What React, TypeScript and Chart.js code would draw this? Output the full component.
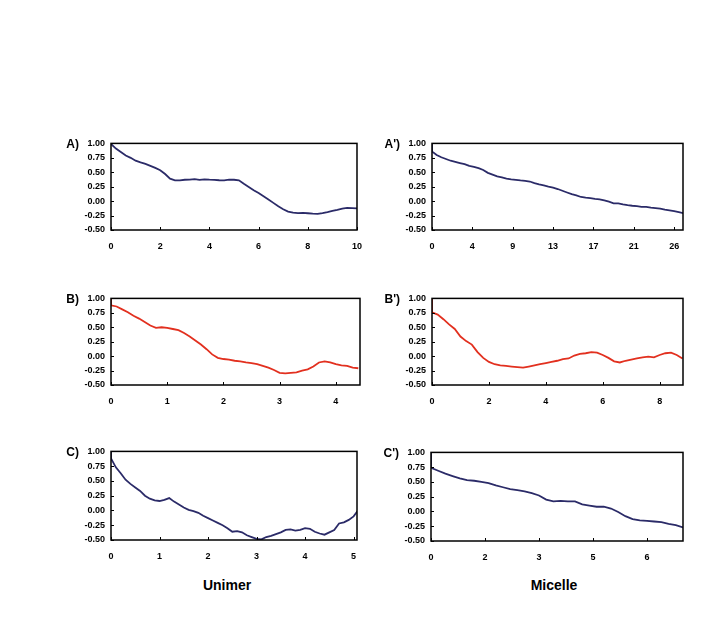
import React, { useEffect, useRef } from "react";
import { Chart, registerables } from "chart.js";

Chart.register(...registerables);

// ---------- data ----------
const START_VALUE = 1.0;

// Panel A (Unimer)
const A_STEP = 0.2;
const A_VALUES = [0.99, 0.91, 0.85, 0.79, 0.75, 0.7, 0.67, 0.645, 0.61, 0.575, 0.535, 0.47, 0.39, 0.36, 0.36, 0.37, 0.372, 0.38, 0.37, 0.378, 0.372, 0.368, 0.362, 0.36, 0.372, 0.37, 0.36, 0.3, 0.245, 0.19, 0.14, 0.085, 0.03, -0.03, -0.09, -0.14, -0.18, -0.2, -0.208, -0.205, -0.21, -0.218, -0.22, -0.208, -0.19, -0.17, -0.15, -0.128, -0.118, -0.12, -0.125];
const A_TICKS = ["0", "2", "4", "6", "8", "10"];
const A_TICK_STEP = 2;
const A_MAX = 10;

// Panel A' (Micelle)
const A2_STEP = 0.5;
const A2_VALUES = [0.86, 0.8, 0.76, 0.73, 0.7, 0.68, 0.66, 0.64, 0.61, 0.595, 0.57, 0.54, 0.49, 0.46, 0.43, 0.41, 0.39, 0.378, 0.37, 0.36, 0.352, 0.34, 0.312, 0.29, 0.272, 0.25, 0.232, 0.21, 0.18, 0.15, 0.12, 0.1, 0.072, 0.06, 0.052, 0.04, 0.032, 0.012, -0.01, -0.038, -0.04, -0.058, -0.07, -0.08, -0.088, -0.098, -0.1, -0.112, -0.12, -0.13, -0.148, -0.16, -0.172, -0.19, -0.21];
const A2_TICKS = ["0", "4", "9", "13", "17", "21", "26"];
const A2_TICK_STEP = 26 / 6;
const A2_MAX = 26.95;

// Panel B (Unimer)
const B_STEP = 0.1;
const B_VALUES = [0.88, 0.86, 0.81, 0.76, 0.7, 0.65, 0.59, 0.53, 0.49, 0.5, 0.49, 0.47, 0.45, 0.4, 0.34, 0.27, 0.2, 0.12, 0.03, -0.03, -0.05, -0.06, -0.08, -0.09, -0.11, -0.12, -0.14, -0.17, -0.2, -0.24, -0.29, -0.3, -0.29, -0.28, -0.25, -0.23, -0.18, -0.11, -0.09, -0.11, -0.14, -0.16, -0.17, -0.2, -0.21];
const B_TICKS = ["0", "1", "2", "3", "4"];
const B_TICK_STEP = 1;
const B_MAX = 4.43;

// Panel B' (Micelle)
const B2_STEP = 0.2;
const B2_VALUES = [0.76, 0.72, 0.64, 0.55, 0.47, 0.34, 0.26, 0.2, 0.07, -0.03, -0.1, -0.14, -0.16, -0.17, -0.18, -0.19, -0.2, -0.18, -0.16, -0.14, -0.12, -0.1, -0.08, -0.05, -0.04, 0.01, 0.04, 0.05, 0.07, 0.06, 0.02, -0.03, -0.09, -0.11, -0.08, -0.06, -0.04, -0.02, -0.01, -0.02, 0.02, 0.05, 0.06, 0.02, -0.04];
const B2_TICKS = ["0", "2", "4", "6", "8"];
const B2_TICK_STEP = 2;
const B2_MAX = 8.82;

// Panel C (Unimer)
const C_STEP = 0.1;
const C_VALUES = [0.88, 0.73, 0.63, 0.52, 0.45, 0.39, 0.33, 0.25, 0.2, 0.17, 0.16, 0.18, 0.21, 0.15, 0.1, 0.05, 0.01, -0.01, -0.04, -0.09, -0.13, -0.17, -0.21, -0.25, -0.3, -0.36, -0.35, -0.37, -0.42, -0.45, -0.48, -0.49, -0.45, -0.43, -0.4, -0.37, -0.33, -0.32, -0.34, -0.33, -0.3, -0.31, -0.36, -0.39, -0.41, -0.37, -0.33, -0.22, -0.2, -0.16, -0.1, 0.01];
const C_TICKS = ["0", "1", "2", "3", "4", "5"];
const C_TICK_STEP = 1;
const C_MAX = 5.07;

// Panel C' (Micelle)
const C2_STEP = 0.2;
const C2_VALUES = [0.74, 0.69, 0.64, 0.6, 0.56, 0.53, 0.52, 0.5, 0.48, 0.44, 0.41, 0.38, 0.36, 0.34, 0.31, 0.27, 0.2, 0.17, 0.18, 0.17, 0.17, 0.12, 0.1, 0.08, 0.08, 0.05, -0.01, -0.08, -0.13, -0.15, -0.16, -0.17, -0.18, -0.21, -0.23, -0.27];
const C2_TICKS = ["0", "2", "3", "5", "6"];
const C2_TICK_STEP = 1.5;
const C2_MAX = 7.0;

const Y_MIN = -0.5;
const Y_MAX = 1.0;
const Y_STEP = 0.25;

const NAVY = "#2b2b68";
const RED = "#e2301f";

// ---------- layout ----------
type Panel = {
  label: string;
  values: number[];
  step: number;
  ticks: string[];
  tickStep: number;
  max: number;
  color: string;
  left: number;
  top: number;
  w: number;
  h: number;
};

const PANELS: Panel[] = [
  { label: "A)", values: A_VALUES, step: A_STEP, ticks: A_TICKS, tickStep: A_TICK_STEP, max: A_MAX, color: NAVY, left: 111, top: 142, w: 250, h: 88 },
  { label: "A')", values: A2_VALUES, step: A2_STEP, ticks: A2_TICKS, tickStep: A2_TICK_STEP, max: A2_MAX, color: NAVY, left: 432, top: 142, w: 251, h: 88 },
  { label: "B)", values: B_VALUES, step: B_STEP, ticks: B_TICKS, tickStep: B_TICK_STEP, max: B_MAX, color: RED, left: 111, top: 297, w: 249, h: 88 },
  { label: "B')", values: B2_VALUES, step: B2_STEP, ticks: B2_TICKS, tickStep: B2_TICK_STEP, max: B2_MAX, color: RED, left: 432, top: 297, w: 251, h: 88 },
  { label: "C)", values: C_VALUES, step: C_STEP, ticks: C_TICKS, tickStep: C_TICK_STEP, max: C_MAX, color: NAVY, left: 111, top: 450, w: 246, h: 90 },
  { label: "C')", values: C2_VALUES, step: C2_STEP, ticks: C2_TICKS, tickStep: C2_TICK_STEP, max: C2_MAX, color: NAVY, left: 431, top: 451, w: 252, h: 90 },
];

const PAD_LEFT = 50;
const PAD_TOP = 10;
const PAD_RIGHT = 12;
const PAD_BOTTOM = 26;

const FONT = "'Liberation Sans', Arial, Helvetica, sans-serif";

const framePlugin = {
  id: "frame",
  afterDatasetsDraw(chart: any) {
    const { ctx, chartArea, scales } = chart;
    const { left, top, right, bottom } = chartArea;
    ctx.save();
    ctx.strokeStyle = "#000";
    ctx.lineWidth = 1;
    ctx.beginPath();
    scales.x.ticks.forEach((t: any) => {
      const px = Math.round(scales.x.getPixelForValue(t.value)) + 0.5;
      ctx.moveTo(px, bottom);
      ctx.lineTo(px, bottom - 3);
    });
    scales.y.ticks.forEach((t: any) => {
      const py = Math.round(scales.y.getPixelForValue(t.value)) + 0.5;
      ctx.moveTo(left, py);
      ctx.lineTo(left + 3, py);
    });
    ctx.stroke();
    ctx.lineWidth = 1.5;
    ctx.strokeRect(left, top, right - left, bottom - top);
    ctx.restore();
  },
};

function PanelChart({ p }: { p: Panel }) {
  const ref = useRef<HTMLCanvasElement>(null);
  useEffect(() => {
    if (!ref.current) return;
    const points = [{ x: 0, y: START_VALUE }, ...p.values.map((y, i) => ({ x: i * p.step, y }))];
    const chart = new Chart(ref.current, {
      type: "line",
      data: {
        datasets: [
          {
            data: points,
            borderColor: p.color,
            borderWidth: 1.8,
            pointRadius: 0,
            tension: 0,
            fill: false,
          },
        ],
      },
      options: {
        animation: false,
        responsive: false,
        events: [],
        layout: { padding: { left: 0, top: PAD_TOP, right: PAD_RIGHT, bottom: 0 } },
        plugins: { legend: { display: false }, tooltip: { enabled: false } },
        scales: {
          x: {
            type: "linear",
            min: 0,
            max: p.max,
            grid: { display: false, drawTicks: false },
            border: { display: false },
            afterBuildTicks: (scale: any) => {
              scale.ticks = p.ticks.map((_, i) => ({ value: i * p.tickStep }));
            },
            afterFit: (scale: any) => {
              scale.height = PAD_BOTTOM;
            },
            ticks: {
              autoSkip: false,
              maxRotation: 0,
              minRotation: 0,
              padding: 11,
              color: "#000",
              font: { family: FONT, size: 9, weight: "bold" },
              callback: (_v: any, i: number) => p.ticks[i],
            },
          },
          y: {
            type: "linear",
            min: Y_MIN,
            max: Y_MAX,
            grid: { display: false, drawTicks: false },
            border: { display: false },
            afterFit: (scale: any) => {
              scale.width = PAD_LEFT;
            },
            ticks: {
              stepSize: Y_STEP,
              padding: 6,
              color: "#000",
              font: { family: FONT, size: 9, weight: "bold" },
              callback: (v: any) => Number(v).toFixed(2),
            },
          },
        },
      } as any,
      plugins: [framePlugin],
    });
    return () => chart.destroy();
  }, [p]);
  const cw = p.w + PAD_LEFT + PAD_RIGHT;
  const ch = p.h + PAD_TOP + PAD_BOTTOM;
  return (
    <>
      <canvas
        ref={ref}
        width={cw}
        height={ch}
        style={{ position: "absolute", left: p.left - PAD_LEFT, top: p.top - PAD_TOP, width: cw, height: ch }}
      />
      <div
        style={{
          position: "absolute",
          left: p.left - 32 - 40,
          top: p.top - 4,
          width: 40,
          textAlign: "right",
          font: `bold 12px ${FONT}`,
          lineHeight: "12px",
          color: "#000",
        }}
      >
        {p.label}
      </div>
    </>
  );
}

const X_TITLES = [
  { text: "Unimer", center: 227 },
  { text: "Micelle", center: 554 },
];

export default function App() {
  return (
    <div style={{ position: "absolute", left: 0, top: 0, width: 703, height: 638, background: "#fff" }}>
      {PANELS.map((p) => (
        <PanelChart key={p.label} p={p} />
      ))}
      {X_TITLES.map((t) => (
        <div
          key={t.text}
          style={{
            position: "absolute",
            left: t.center - 60,
            width: 120,
            top: 578,
            textAlign: "center",
            font: `bold 14px ${FONT}`,
            lineHeight: "14px",
            color: "#000",
          }}
        >
          {t.text}
        </div>
      ))}
    </div>
  );
}
